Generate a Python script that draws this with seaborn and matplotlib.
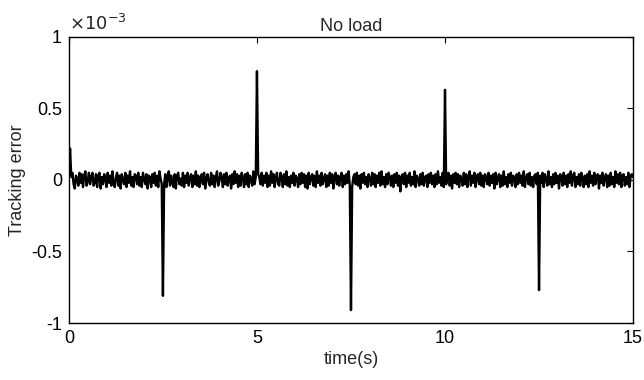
import numpy as np
import pandas as pd
import matplotlib
matplotlib.use("Agg")
import matplotlib.pyplot as plt
import seaborn as sns
from matplotlib.ticker import FuncFormatter

# tracking error, values in units of 1e-3
noise = [
    0.04, -0.05, 0.02, 0.05, -0.03, -0.06, 0.03, 0.01, -0.04, 0.05,
    -0.02, 0.04, -0.05, 0.03, 0.06, -0.04, -0.01, 0.05, -0.03, 0.02,
    0.05, -0.04, -0.02, 0.04, -0.05, 0.03, 0.05, -0.06, 0.02, -0.03,
    0.04, 0.01, -0.05, 0.05, -0.02, 0.03, -0.04, 0.06, -0.03, -0.05,
    0.02, 0.05, -0.04, 0.03, -0.06, 0.04, 0.00, -0.03, 0.05, -0.05,
    0.03, -0.02, 0.06, -0.04, 0.02, -0.05, 0.04, 0.03, -0.03, 0.05,
    -0.04, 0.02, -0.05, 0.05, 0.01, -0.03, 0.04, -0.06, 0.03, 0.02,
    -0.05, 0.04, -0.02, 0.05, -0.04, 0.03, -0.05, 0.06, 0.01, -0.03,
    0.05, -0.03, 0.04, -0.05, 0.02, 0.06, -0.04, 0.03, -0.02, -0.05,
    0.04, -0.06, 0.03, 0.05, -0.03, 0.01, -0.04, 0.05, -0.05, 0.03,
    -0.02, 0.05, -0.04, 0.02, 0.04, -0.05, 0.03, -0.03, 0.06, -0.04,
    0.03, -0.05, 0.01, 0.04, -0.03, 0.05, -0.06, 0.02, 0.04, -0.02,
    -0.04, 0.05, -0.03, 0.03, -0.05, 0.02, 0.06, -0.04, -0.01, 0.05,
    0.02, -0.05, 0.04, -0.03, 0.05, -0.04, 0.01, 0.03, -0.06, 0.04,
    -0.03, 0.06, -0.02, 0.04, -0.05, 0.03, -0.04, 0.05, 0.02, -0.05,
    0.04, -0.03, 0.05, -0.05, 0.03, 0.01, -0.04, 0.06, -0.03, 0.02,
    -0.06, 0.04, 0.02, -0.03, 0.05, -0.04, 0.03, -0.02, 0.05, -0.05,
    0.03, -0.04, 0.06, -0.02, 0.04, -0.05, 0.01, 0.05, -0.03, -0.04,
    0.05, 0.02, -0.05, 0.04, -0.03, 0.06, -0.04, 0.02, -0.05, 0.03,
    -0.02, 0.05, -0.04, 0.03, 0.01, -0.05, 0.04, -0.03, 0.05, -0.02,
    0.04, -0.05, 0.03, -0.06, 0.05, -0.03, 0.02, 0.04, -0.04, 0.03,
    -0.05, 0.06, -0.02, 0.03, -0.04, 0.05, -0.03, 0.01, 0.04, -0.05,
    0.03, -0.04, 0.05, -0.02, 0.04, -0.06, 0.02, 0.05, -0.03, 0.03,
    -0.04, 0.02, 0.05, -0.05, 0.03, -0.03, 0.04, -0.02, 0.06, -0.04,
    0.03, -0.05, 0.02, 0.04, -0.03, 0.05, -0.04, 0.03, -0.06, 0.04,
    -0.02, 0.05, -0.03, 0.02, -0.05, 0.04, 0.01, -0.04, 0.05, -0.03,
    0.04, -0.05, 0.03, -0.02, 0.05, -0.04, 0.06, -0.03, 0.02, -0.05,
    0.04, -0.03, 0.05, 0.02, -0.04, 0.03, -0.05, 0.04, -0.02, 0.05,
    -0.04, 0.03, -0.08, 0.02, 0.04, -0.03, 0.05, -0.05, 0.03, -0.02,
    0.05, -0.04, 0.02, -0.03, 0.06, -0.05, 0.03, 0.01, -0.04, 0.04,
    -0.03, 0.05, -0.04, 0.02, 0.03, -0.05, 0.04, -0.02, 0.05, -0.03,
    0.03, -0.05, 0.04, -0.03, 0.06, -0.02, 0.02, -0.04, 0.05, -0.05,
    0.04, -0.03, 0.02, 0.05, -0.04, 0.03, -0.06, 0.04, -0.02, 0.05,
    -0.03, 0.04, -0.05, 0.03, 0.01, -0.04, 0.05, -0.03, 0.04, -0.05,
    0.02, 0.06, -0.04, 0.03, -0.02, 0.05, -0.05, 0.02, 0.04, -0.03,
    0.05, -0.04, 0.03, -0.05, 0.04, 0.02, -0.03, 0.05, -0.04, 0.03,
    -0.02, 0.04, -0.06, 0.05, -0.03, 0.02, 0.04, -0.05, 0.03, -0.04,
    0.06, -0.03, 0.02, -0.05, 0.04, -0.02, 0.05, -0.04, 0.03, 0.01,
    -0.05, 0.04, -0.03, 0.05, -0.02, 0.03, -0.04, 0.06, -0.05, 0.02,
    0.04, -0.03, 0.05, -0.04, 0.02, -0.05, 0.03, 0.04, -0.03, 0.05,
    -0.04, 0.03, -0.02, 0.05, -0.05, 0.04, 0.01, -0.04, 0.06, -0.03,
    0.02, -0.05, 0.04, -0.03, 0.05, -0.02, 0.03, -0.06, 0.04, 0.02,
    -0.04, 0.05, -0.03, 0.03, -0.05, 0.04, -0.02, 0.06, -0.04, 0.03,
    0.05, -0.05, 0.02, -0.03, 0.04, -0.04, 0.05, 0.01, -0.05, 0.03,
    -0.03, 0.04, -0.05, 0.06, -0.02, 0.03, -0.04, 0.05, -0.03, 0.02,
    0.04, -0.06, 0.03, -0.02, 0.05, -0.04, 0.02, 0.04, -0.05, 0.03,
    -0.04, 0.05, -0.03, 0.02, -0.05, 0.06, -0.02, 0.04, -0.03, 0.05,
    -0.05, 0.03, 0.04, -0.04, 0.02, -0.03, 0.05, -0.05, 0.03, 0.04,
    0.02,
]
spike_times = [0.03, 2.5, 5.0, 7.5, 10.0, 12.5]
spike_values = [0.22, -0.81, 0.76, -0.91, 0.63, -0.77]

t = np.linspace(0, 15, len(noise))
err = np.array(noise, dtype=float)
for st, sv in zip(spike_times, spike_values):
    err[np.argmin(np.abs(t - st))] = sv
df = pd.DataFrame({"time": t, "err": err})

sns.set_style("white")
plt.rcParams['font.family'] = ['Liberation Sans', 'DejaVu Sans']

fig, ax = plt.subplots(figsize=(6.44, 3.8), dpi=100)
fig.subplots_adjust(left=0.107, right=0.983, top=0.903, bottom=0.15)

sns.lineplot(data=df, x="time", y="err", color="black", linewidth=1.7,
             estimator=None, ax=ax)

ax.set_xlim(0, 15)
ax.set_ylim(-1, 1)
ax.set_xticks([0, 5, 10, 15])
ax.set_yticks([-1, -0.5, 0, 0.5, 1])
ax.yaxis.set_major_formatter(FuncFormatter(lambda v, p: f"{v:g}"))
ax.tick_params(direction="in", length=4, width=0.8, top=True, right=True,
               labelsize=13, colors="black", pad=5)
for s in ax.spines.values():
    s.set_color("black")
    s.set_linewidth(1.0)

ax.set_xlabel("time(s)", fontsize=13, labelpad=3)
ax.set_ylabel("Tracking error", fontsize=13, labelpad=4)
ax.set_title("No load", fontsize=13, pad=4)
ax.text(0.0, 1.01, r"$\times10^{-3}$", transform=ax.transAxes, fontsize=13,
        ha="left", va="bottom")

fig.savefig("out.png", dpi=100)
